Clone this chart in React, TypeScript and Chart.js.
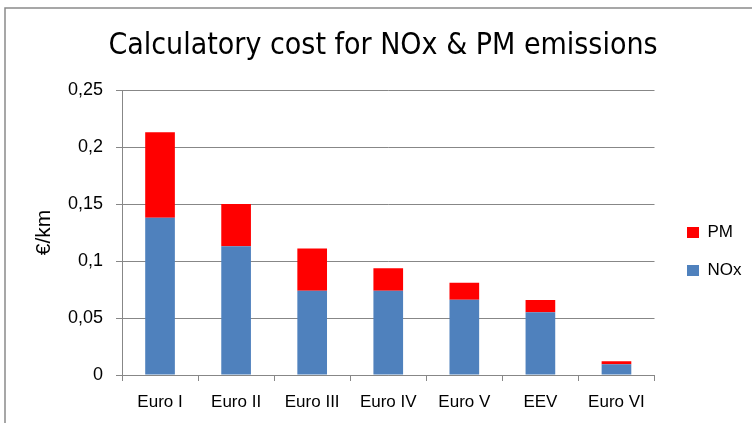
import React, { useEffect, useRef } from "react";
import { Chart, registerables } from "chart.js";

Chart.register(...registerables);

const categories = ["Euro I", "Euro II", "Euro III", "Euro IV", "Euro V", "EEV", "Euro VI"];
const noxValues = [0.138, 0.113, 0.074, 0.074, 0.066, 0.055, 0.0094];
const pmValues = [0.075, 0.037, 0.037, 0.0196, 0.015, 0.0108, 0.0026];
const yTicks = [0, 0.05, 0.1, 0.15, 0.2, 0.25];
const chartTitle = "Calculatory cost for NOx & PM emissions";
const yTitle = "€/km";

const W = 752;
const H = 423;

const framePlugin = {
  id: "frame",
  beforeDraw(chart: any) {
    const ctx = chart.ctx;
    ctx.save();
    ctx.fillStyle = "#ffffff";
    ctx.fillRect(0, 0, chart.width, chart.height);
    ctx.strokeStyle = "#8a8a8a";
    ctx.lineWidth = 1.5;
    ctx.beginPath();
    ctx.moveTo(5, chart.height);
    ctx.lineTo(5, 8);
    ctx.lineTo(chart.width, 8);
    ctx.stroke();
    ctx.restore();
  },
};

const legendShift = {
  id: "legendShift",
  beforeDraw(chart: any) {
    const lg = chart.legend;
    if (!lg) return;
    const pad = lg.options.labels.padding;
    const ca = chart.chartArea;
    lg.left = 687 - pad;
    lg.right = lg.left + lg.width;
    lg.top = ca.top + 19;
    lg.bottom = ca.bottom + 19;
  },
};

export default function App() {
  const ref = useRef<HTMLCanvasElement | null>(null);
  useEffect(() => {
    if (!ref.current) return;
    const chart = new Chart(ref.current, {
      type: "bar",
      data: {
        labels: categories,
        datasets: [
          {
            label: "NOx",
            data: noxValues,
            backgroundColor: "#4F81BD",
            categoryPercentage: 1,
            barPercentage: 0.39,
          },
          {
            label: "PM",
            data: pmValues,
            backgroundColor: "#FF0000",
            categoryPercentage: 1,
            barPercentage: 0.39,
          },
        ],
      },
      options: {
        responsive: false,
        animation: false,
        layout: { padding: { left: 26, right: 12, top: 0, bottom: 0 } },
        plugins: {
          title: {
            display: true,
            text: chartTitle,
            color: "#000000",
            font: { family: "'DejaVu Sans Condensed', 'Liberation Sans', sans-serif", size: 30, weight: "normal" },
            padding: { top: 28, bottom: 26 },
          },
          legend: {
            display: true,
            position: "right",
            reverse: true,
            labels: {
              color: "#000000",
              font: { family: "'Liberation Sans', sans-serif", size: 17 },
              boxWidth: 12,
              boxHeight: 11,
              padding: 21,
            },
          },
          tooltip: { enabled: false },
        },
        scales: {
          x: {
            stacked: true,
            grid: {
              offset: true,
              drawOnChartArea: false,
              drawTicks: true,
              tickLength: 6,
              color: "#878787",
            },
            border: { display: true, color: "#878787" },
            ticks: {
              color: "#000000",
              font: { family: "'Liberation Sans', sans-serif", size: 17 },
              padding: 11,
              maxRotation: 0,
            },
            afterFit(scale: any) {
              scale.height = 48;
            },
          },
          y: {
            stacked: true,
            min: 0,
            max: 0.25,
            afterBuildTicks(scale: any) {
              scale.ticks = yTicks.map((v) => ({ value: v }));
            },
            grid: {
              color: "#878787",
              drawTicks: true,
              tickLength: 6,
            },
            border: { display: true, color: "#878787" },
            ticks: {
              color: "#000000",
              font: { family: "'Liberation Sans', sans-serif", size: 18 },
              padding: 13,
              callback: (v: any) => String(Math.round(Number(v) * 100) / 100).replace(".", ","),
            },
            title: {
              display: true,
              text: yTitle,
              color: "#000000",
              font: { family: "'Liberation Sans', sans-serif", size: 21 },
              padding: { top: 6, bottom: 0 },
            },
            afterFit(scale: any) {
              scale.width = 96;
            },
          },
        },
      },
      plugins: [framePlugin, legendShift],
    });
    return () => chart.destroy();
  }, []);
  return (
    <div style={{ position: "absolute", left: 0, top: 0, width: W, height: H }}>
      <canvas ref={ref} width={W} height={H} style={{ display: "block", width: W, height: H }} />
    </div>
  );
}
